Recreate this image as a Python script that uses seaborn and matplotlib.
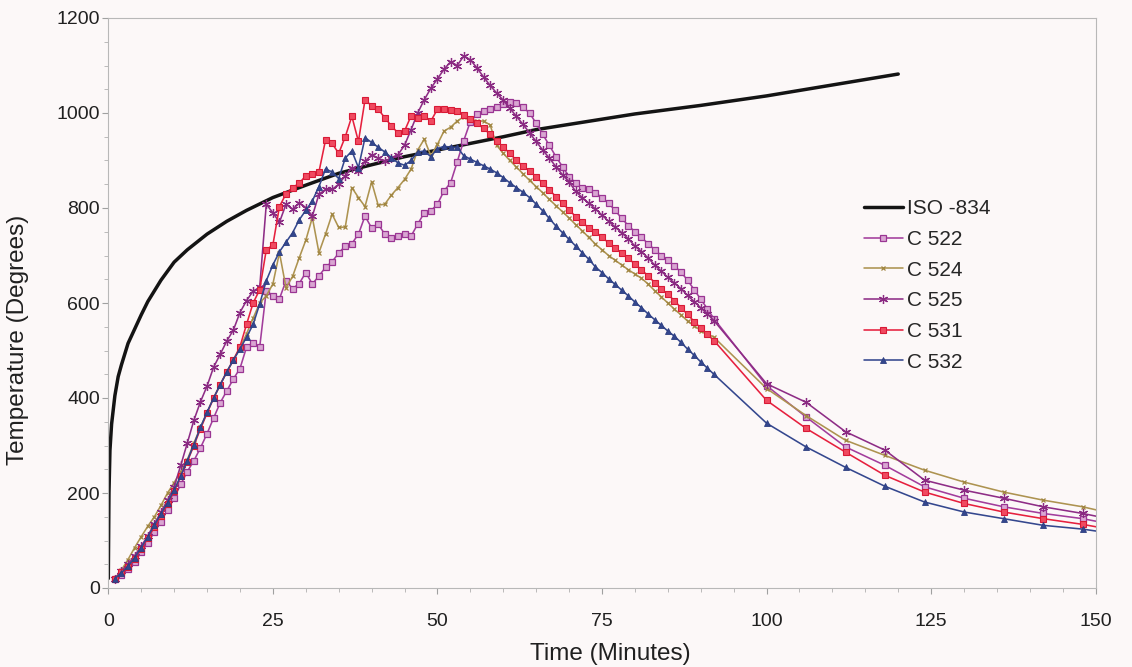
import matplotlib
matplotlib.use("Agg")
import matplotlib.pyplot as plt
from matplotlib.ticker import MultipleLocator
import seaborn as sns

# time axis of the measured compartment series (1-min logging, then every 6 min)
fast_minutes = list(range(1, 93))
slow_minutes = [100, 106, 112, 118, 124, 130, 136, 142, 148, 154]
minutes = fast_minutes + slow_minutes

# standard fire curve as drawn
iso_minutes = [0, 0.1, 0.25, 0.5, 1, 1.5, 2, 3, 4, 5, 6, 8, 10, 12, 15, 18, 21,
               25, 30, 35, 40, 45, 50, 55, 60, 65, 70, 80, 90, 100, 110, 120]
iso_temps = [20, 200, 290, 345, 405, 445, 470, 515, 545, 575, 603, 648, 686, 712,
             745, 772, 795, 822, 848, 873, 891, 908, 922, 936, 950, 965, 976, 998,
             1016, 1036, 1059, 1082]

c522 = [18, 28, 40, 55, 75, 95, 118, 140, 165, 190,
        218, 245, 268, 295, 325, 358, 390, 415, 440, 462,
        507, 515, 507, 626, 615, 609, 647, 630, 641, 664,
        640, 657, 675, 687, 705, 720, 725, 745, 783, 758,
        766, 745, 737, 741, 745, 741, 766, 790, 794, 808,
        836, 853, 897, 942, 982, 997, 1004, 1008, 1013, 1018,
        1024, 1022, 1012, 1000, 978, 955, 932, 908, 887, 866,
        852, 843, 840, 832, 822, 810, 795, 778, 763, 750,
        738, 725, 712, 700, 690, 678, 665, 648, 628, 608,
        588, 567,
        426, 360, 297, 258, 213, 189, 171, 157, 146, 130]

c524 = [20, 38, 60, 85, 108, 130, 150, 174, 200, 222,
        245, 270, 305, 338, 370, 400, 428, 455, 480, 505,
        535, 568, 600, 615, 640, 706, 632, 656, 695, 732,
        780, 706, 745, 787, 759, 760, 843, 822, 803, 855,
        806, 808, 827, 843, 860, 882, 922, 945, 910, 934,
        962, 970, 983, 992, 988, 983, 983, 975, 932, 915,
        900, 886, 872, 858, 845, 832, 818, 805, 792, 779,
        765, 752, 738, 724, 712, 700, 690, 680, 670, 661,
        652, 640, 626, 613, 600, 587, 575, 562, 552, 542,
        535, 528,
        420, 363, 311, 279, 248, 223, 202, 185, 171, 152]

c525 = [20, 36, 50, 68, 88, 110, 135, 160, 185, 213,
        258, 305, 353, 392, 425, 465, 492, 520, 543, 580,
        605, 625, 633, 808, 790, 770, 808, 797, 811, 801,
        783, 829, 839, 839, 850, 868, 885, 878, 898, 912,
        905, 898, 906, 912, 932, 965, 1000, 1028, 1052, 1072,
        1092, 1108, 1100, 1120, 1112, 1095, 1076, 1058, 1042, 1027,
        1010, 993, 976, 958, 940, 922, 905, 887, 870, 855,
        835, 822, 810, 798, 785, 772, 760, 748, 735, 720,
        708, 695, 680, 667, 654, 642, 630, 616, 603, 590,
        577, 563,
        430, 391, 329, 290, 227, 206, 189, 171, 157, 140]

c531 = [20, 33, 45, 62, 82, 105, 128, 152, 176, 204,
        235, 266, 300, 335, 368, 400, 428, 455, 480, 508,
        555, 600, 628, 712, 722, 803, 830, 843, 852, 868,
        872, 876, 943, 936, 915, 950, 993, 940, 1028, 1015,
        1008, 990, 973, 958, 962, 994, 990, 994, 983, 1008,
        1008, 1006, 1004, 995, 987, 978, 968, 955, 940, 928,
        915, 900, 888, 878, 866, 852, 838, 824, 810, 796,
        782, 770, 758, 750, 738, 727, 716, 705, 694, 682,
        670, 657, 643, 630, 618, 605, 590, 576, 561, 547,
        534, 521,
        395, 336, 286, 237, 202, 178, 160, 146, 134, 119]

c532 = [20, 32, 46, 64, 85, 108, 132, 156, 180, 206,
        236, 268, 302, 338, 370, 400, 428, 455, 480, 503,
        528, 555, 598, 647, 680, 708, 728, 748, 775, 795,
        815, 845, 882, 876, 862, 905, 920, 885, 948, 938,
        928, 918, 906, 895, 890, 900, 918, 920, 908, 925,
        930, 928, 928, 910, 903, 896, 889, 882, 874, 864,
        853, 843, 833, 822, 808, 794, 778, 762, 748, 734,
        720, 706, 692, 676, 664, 651, 639, 627, 615, 602,
        590, 577, 565, 553, 541, 530, 517, 503, 490, 476,
        463, 450,
        347, 297, 254, 214, 181, 160, 146, 132, 124, 112]

series = [
    ("C 522", c522, dict(color="#a23d9c", marker="s", markersize=4.2,
                         markerfacecolor="#d9a6d2", markeredgecolor="#9a3593",
                         markeredgewidth=0.9)),
    ("C 524", c524, dict(color="#ad9350", marker="x", markersize=3.5,
                         markeredgecolor="#a08540", markeredgewidth=0.9)),
    ("C 525", c525, dict(color="#8e2d86", marker=(6, 2, 0), markersize=6.5,
                         markeredgecolor="#8a2a82", markeredgewidth=0.9)),
    ("C 531", c531, dict(color="#e6203e", marker="s", markersize=3.8,
                         markerfacecolor="#f04a60", markeredgecolor="#d81a36",
                         markeredgewidth=0.8)),
    ("C 532", c532, dict(color="#34478e", marker="^", markersize=3.8,
                         markerfacecolor="#34478e", markeredgecolor="#2c3d80",
                         markeredgewidth=0.6)),
]

bg = "#fcf8f8"
sns.set_theme(style="white")
plt.rcParams["font.family"] = ["Liberation Sans", "DejaVu Sans"]

fig = plt.figure(figsize=(11.32, 6.67), dpi=100, facecolor=bg)
ax = fig.add_axes([108.3 / 1132, 1 - 588 / 667, 987.4 / 1132, 570 / 667])
ax.set_facecolor(bg)

sns.lineplot(x=iso_minutes, y=iso_temps, color="#141414", linewidth=2.5,
             label="ISO -834", estimator=None, sort=False, ax=ax)
for name, temps, style in series:
    assert len(temps) == len(minutes), name
    sns.lineplot(x=minutes, y=temps, linewidth=1.15, label=name,
                 estimator=None, sort=False, ax=ax, **style)

ax.set_xlim(0, 150)
ax.set_ylim(0, 1200)
ax.xaxis.set_major_locator(MultipleLocator(25))
ax.xaxis.set_minor_locator(MultipleLocator(5))
ax.yaxis.set_major_locator(MultipleLocator(200))
ax.yaxis.set_minor_locator(MultipleLocator(50))
ax.tick_params(axis="both", which="major", direction="out", length=4, width=0.8,
               color="#a0a0a0", labelsize=14, labelcolor="#202020",
               bottom=True, left=True)
ax.tick_params(axis="x", which="major", pad=14)
ax.tick_params(axis="y", which="major", pad=2)
ax.tick_params(axis="both", which="minor", direction="out", length=3, width=0.6,
               color="#b0b0b0", bottom=True, left=True)
for spine in ax.spines.values():
    spine.set_color("#b8b8b8")
    spine.set_linewidth(0.8)

ax.set_xlabel("Time (Minutes)", fontsize=17.5, color="#202020")
ax.set_ylabel("Temperature (Degrees)", fontsize=17.5, color="#202020")
ax.xaxis.set_label_coords(0.508, -0.097)
ax.yaxis.set_label_coords(-0.080, 0.435)

ax.legend(loc="upper left", bbox_to_anchor=(0.765, 0.682), frameon=False,
          fontsize=15, handlelength=1.9, handletextpad=0.2, labelspacing=0.56,
          borderpad=0, borderaxespad=0)

fig.savefig("out.png", dpi=100, facecolor=bg)
plt.close(fig)
